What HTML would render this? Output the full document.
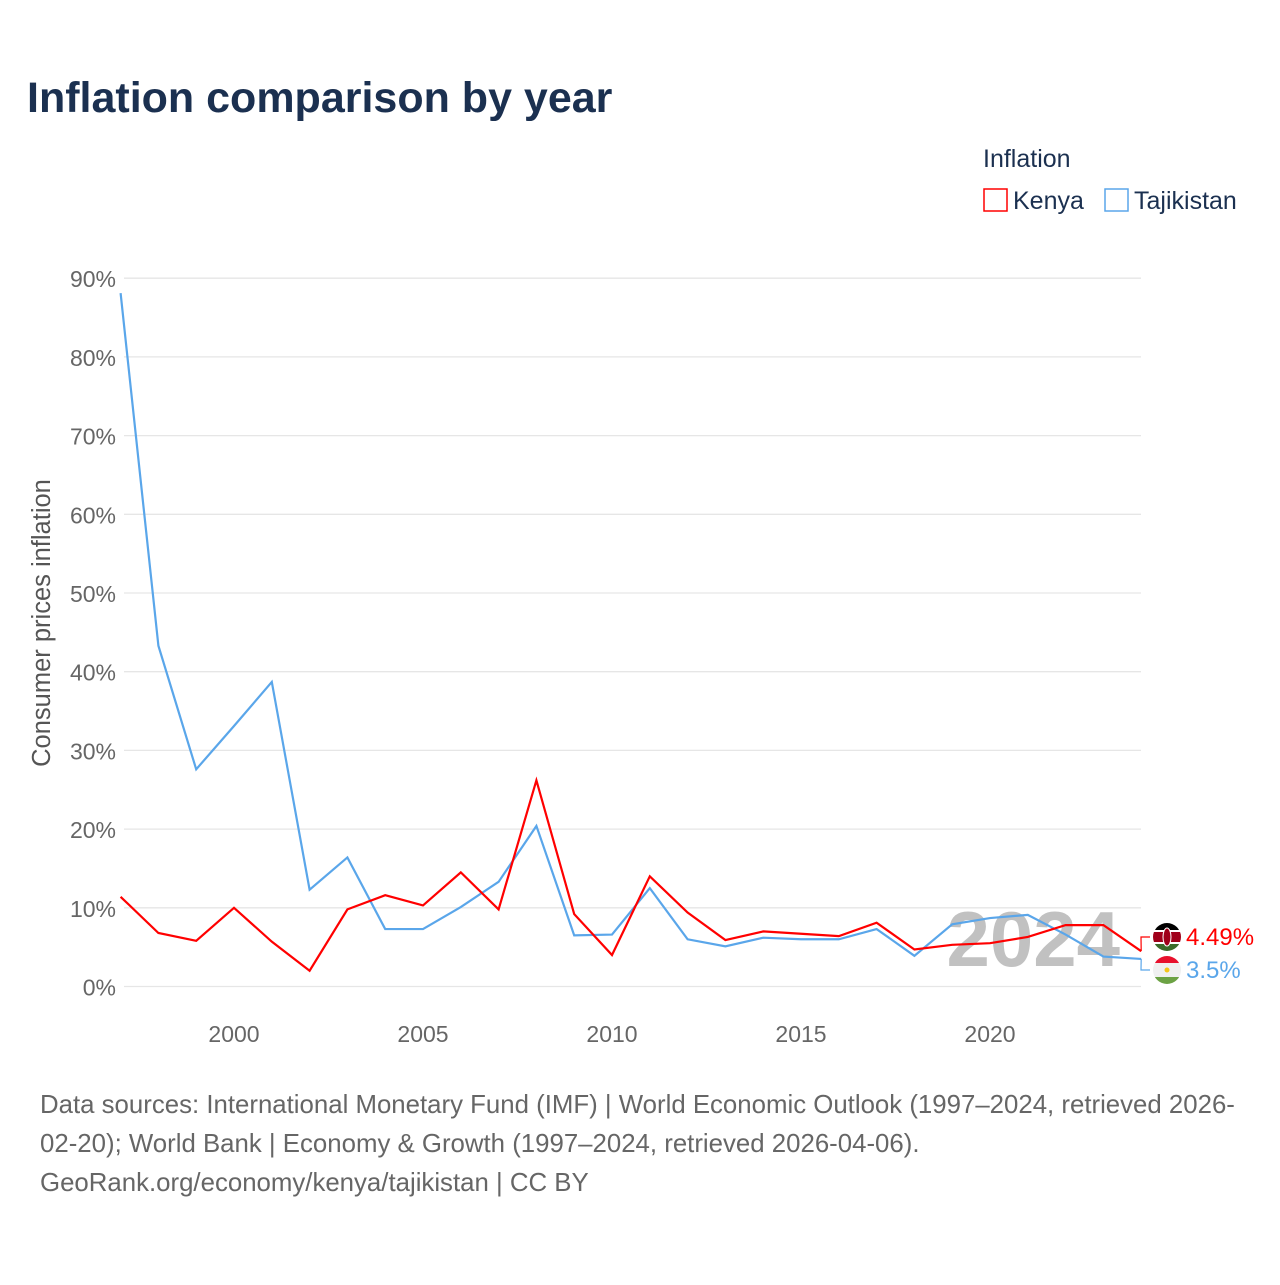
<!DOCTYPE html>
<html><head><meta charset="utf-8"><style>
body{margin:0;background:#fff;width:1280px;height:1280px;overflow:hidden;font-family:"Liberation Sans",sans-serif}
</style></head><body>
<svg width="1280" height="1280" xmlns="http://www.w3.org/2000/svg" font-family="Liberation Sans, sans-serif">
<text x="27" y="112" font-size="43" font-weight="bold" fill="#1b3050">Inflation comparison by year</text>
<g>
<text x="983" y="167" font-size="25" fill="#1b3050">Inflation</text>
<g><rect x="984" y="189" width="23" height="22" fill="none" stroke="#ff0000" stroke-width="1.5"/><text x="1013" y="209" font-size="25" fill="#1b3050">Kenya</text></g>
<g><rect x="1105" y="189" width="23" height="22" fill="none" stroke="#5aa6ea" stroke-width="1.5"/><text x="1134" y="209" font-size="25" fill="#1b3050">Tajikistan</text></g>
</g>
<g id="grid"></g>
<g id="yticks"></g>
<g id="xticks"></g>
<text transform="translate(50,623) rotate(-90)" text-anchor="middle" font-size="25.5" fill="#555">Consumer prices inflation</text>
<text x="1120" y="966" text-anchor="end" font-size="78" font-weight="bold" fill="#bbbbbb" opacity="0.9">2024</text>
<g id="series"></g>
<g>
<clipPath id="ck"><circle cx="1167" cy="937" r="14"/></clipPath>
<g clip-path="url(#ck)"><rect x="1150" y="920" width="34" height="10" fill="#000"/><rect x="1150" y="930" width="34" height="2" fill="#fff"/><rect x="1150" y="932" width="34" height="10" fill="#a0001a"/><rect x="1150" y="942" width="34" height="2" fill="#fff"/><rect x="1150" y="944" width="34" height="10" fill="#3b6b2a"/><ellipse cx="1167" cy="937" rx="4" ry="9" fill="#a0001a" stroke="#fff" stroke-width="1"/></g>
</g>
<g>
<clipPath id="ct"><circle cx="1167" cy="970" r="14"/></clipPath>
<g clip-path="url(#ct)"><rect x="1150" y="953" width="34" height="10" fill="#e8112d"/><rect x="1150" y="963" width="34" height="14" fill="#f0f0f0"/><rect x="1150" y="977" width="34" height="10" fill="#6ca244"/><circle cx="1167" cy="970" r="2.5" fill="#f5c518"/></g>
</g>
<g id="labels"></g>
<g font-size="25.8" fill="#666">
<text x="40" y="1113">Data sources: International Monetary Fund (IMF) | World Economic Outlook (1997–2024, retrieved 2026-</text>
<text x="40" y="1152">02-20); World Bank | Economy &amp; Growth (1997–2024, retrieved 2026-04-06).</text>
<text x="40" y="1191">GeoRank.org/economy/kenya/tajikistan | CC BY</text>
</g>
</svg>
<script>
const years=[1997,1998,1999,2000,2001,2002,2003,2004,2005,2006,2007,2008,2009,2010,2011,2012,2013,2014,2015,2016,2017,2018,2019,2020,2021,2022,2023,2024];
const kenya=[11.4,6.8,5.8,10.0,5.7,2.0,9.8,11.6,10.3,14.5,9.8,26.2,9.2,4.0,14.0,9.4,5.9,7.0,6.7,6.4,8.1,4.7,5.3,5.5,6.3,7.8,7.8,4.49];
const tajik=[88.1,43.3,27.6,33.1,38.7,12.3,16.4,7.3,7.3,10.1,13.3,20.4,6.5,6.6,12.5,6.0,5.1,6.2,6.0,6.0,7.3,3.9,7.9,8.7,9.1,6.6,3.8,3.5];
const yTicks=[0,10,20,30,40,50,60,70,80,90];
const xTicks=[2000,2005,2010,2015,2020];
const NS="http://www.w3.org/2000/svg";
const X=y=>120.6+(y-1997)*37.8;
const Y=v=>986.5-v*7.87;
function mk(t,a,p){const e=document.createElementNS(NS,t);for(const k in a)e.setAttribute(k,a[k]);p.appendChild(e);return e;}
const grid=document.getElementById('grid'),yt=document.getElementById('yticks'),xt=document.getElementById('xticks');
yTicks.forEach(v=>{
 const l=mk('line',{x1:124,x2:1141,y1:Y(v),y2:Y(v),stroke:'#e6e6e6','stroke-width':1.3},grid);
 
 
 const t=mk('text',{x:116,y:Y(v)+9,'text-anchor':'end','font-size':23,fill:'#666'},yt);
 t.textContent=v+'%';
 
 
});
xTicks.forEach(v=>{
 const t=mk('text',{x:X(v),y:1042,'text-anchor':'middle','font-size':23,fill:'#666'},xt);
 t.textContent=v;
 
 
});
const s=document.getElementById('series');
function line(d,c,n){
 const p=mk('polyline',{points:d.map((v,i)=>X(years[i])+','+Y(v)).join(' '),fill:'none',stroke:c,'stroke-width':2.2,'stroke-linejoin':'miter'},s);
 
 
}
line(tajik,'#5aa6ea','line-tajikistan');
line(kenya,'#ff0000','line-kenya');
const lb=document.getElementById('labels');
const lastK=kenya[kenya.length-1],lastT=tajik[tajik.length-1];
mk('polyline',{points:`${X(2024)},${Y(lastK)} 1141,937 1150,937`,fill:'none',stroke:'#ff0000','stroke-width':1.2},lb);
mk('polyline',{points:`${X(2024)},${Y(lastT)} 1141,970 1150,970`,fill:'none',stroke:'#5aa6ea','stroke-width':1.2},lb);
const k=mk('text',{x:1186,y:945,'font-size':24,fill:'#ff0000'},lb);k.textContent=lastK+'%';


const t=mk('text',{x:1186,y:978,'font-size':24,fill:'#5aa6ea'},lb);t.textContent=lastT+'%';


</script>
</body></html>
